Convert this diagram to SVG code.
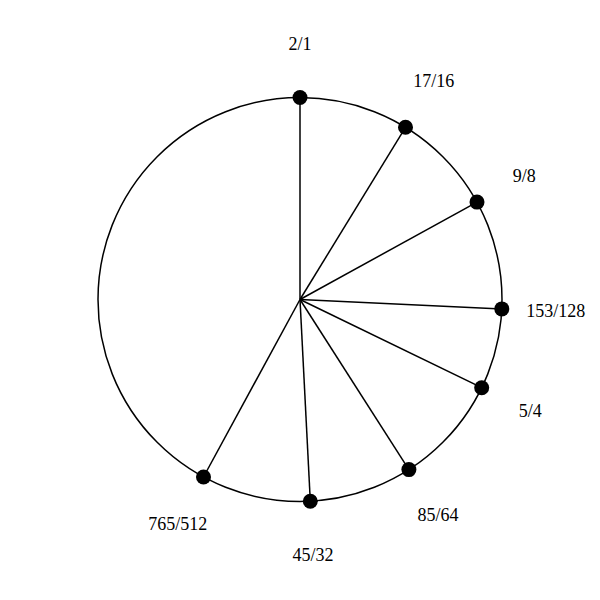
<svg xmlns="http://www.w3.org/2000/svg" width="600" height="600" viewBox="0 0 600 600">
<style>
.ring{fill:none;stroke:#000;stroke-width:1.5}
.spoke{stroke:#000;stroke-width:1.5}
.dot{fill:#000}
.lbl{font-family:"Liberation Serif","Times New Roman",serif;font-size:18px;fill:#000;text-anchor:middle;dominant-baseline:central}
</style>
<rect width="600" height="600" fill="#fff"/>
<circle class="ring" cx="300" cy="299.5" r="202"/>
<g id="connectors">
<line class="spoke" x1="300" y1="299.5" x2="300" y2="97.5"/>
<line class="spoke" x1="300" y1="299.5" x2="405.5" y2="127.3"/>
<line class="spoke" x1="300" y1="299.5" x2="477" y2="202.1"/>
<line class="spoke" x1="300" y1="299.5" x2="501.8" y2="308.9"/>
<line class="spoke" x1="300" y1="299.5" x2="481.7" y2="387.7"/>
<line class="spoke" x1="300" y1="299.5" x2="408.9" y2="469.6"/>
<line class="spoke" x1="300" y1="299.5" x2="310.3" y2="501.2"/>
<line class="spoke" x1="300" y1="299.5" x2="203.5" y2="477"/>
</g>
<g id="n-2-1"><circle class="dot" cx="300" cy="97.5" r="7.5"/><text class="lbl" x="300" y="43.5">2/1</text></g>
<g id="n-17-16"><circle class="dot" cx="405.5" cy="127.3" r="7.5"/><text class="lbl" x="433.8" y="81.2">17/16</text></g>
<g id="n-9-8"><circle class="dot" cx="477" cy="202.1" r="7.5"/><text class="lbl" x="524.3" y="176">9/8</text></g>
<g id="n-153-128"><circle class="dot" cx="501.8" cy="308.9" r="7.5"/><text class="lbl" x="555.7" y="311.4">153/128</text></g>
<g id="n-5-4"><circle class="dot" cx="481.7" cy="387.7" r="7.5"/><text class="lbl" x="530.3" y="411.3">5/4</text></g>
<g id="n-85-64"><circle class="dot" cx="408.9" cy="469.6" r="7.5"/><text class="lbl" x="438" y="515.1">85/64</text></g>
<g id="n-45-32"><circle class="dot" cx="310.3" cy="501.2" r="7.5"/><text class="lbl" x="313.1" y="555.2">45/32</text></g>
<g id="n-765-512"><circle class="dot" cx="203.5" cy="477" r="7.5"/><text class="lbl" x="177.7" y="524.4">765/512</text></g>
</svg>
